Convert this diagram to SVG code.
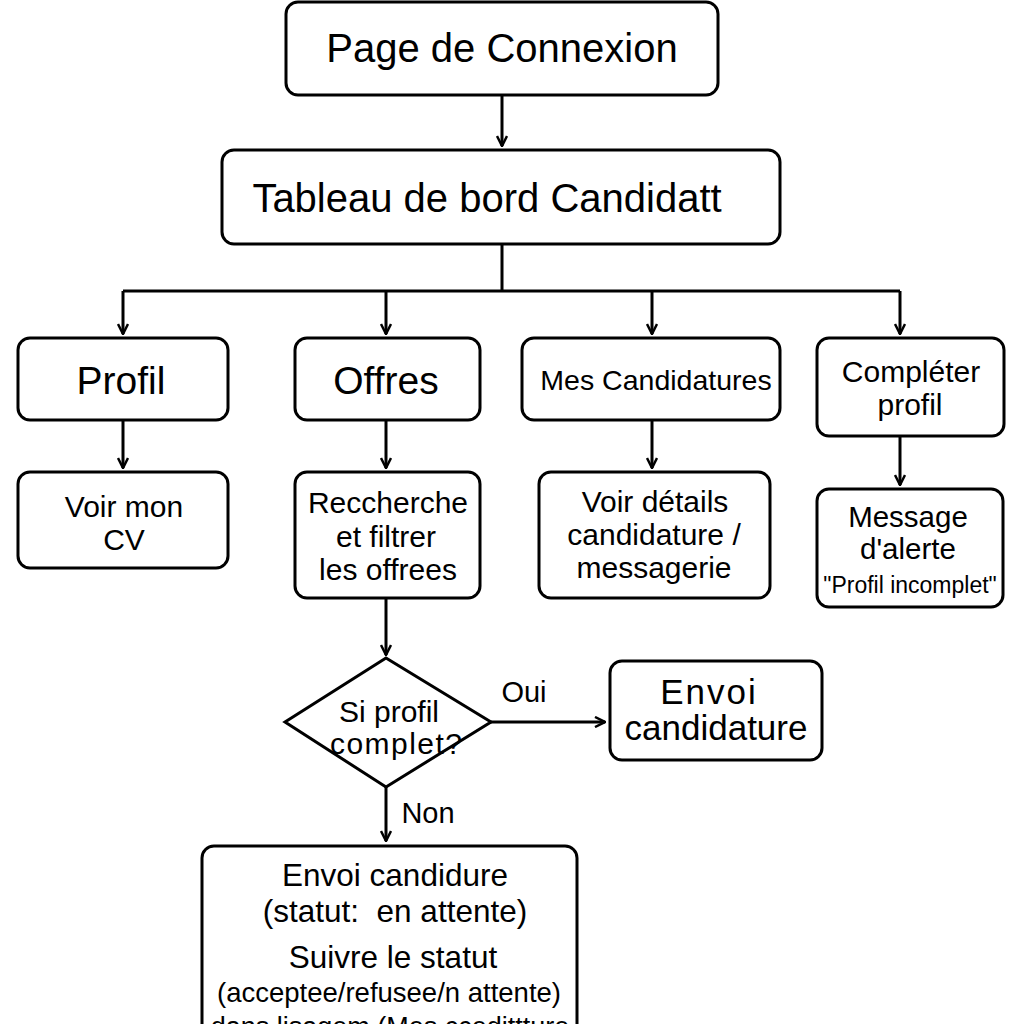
<svg xmlns="http://www.w3.org/2000/svg" width="1024" height="1024" viewBox="0 0 1024 1024">
<defs>
<marker id="ah" viewBox="0 0 12 12" refX="11" refY="6" markerWidth="12" markerHeight="12" markerUnits="userSpaceOnUse" orient="auto">
<path d="M1,1 L11,6 L1,11" fill="none" stroke="#000" stroke-width="2.5"/>
</marker>
<style>
.n{fill:#fff;stroke:#000;stroke-width:3}
.c{fill:none;stroke:#000;stroke-width:3}
text{font-family:"Liberation Sans",Arial,sans-serif;fill:#000;text-anchor:middle}
</style>
</defs>
<rect width="1024" height="1024" fill="#fff"/>
<g id="connectors">
<path class="c" d="M502,95 V146" marker-end="url(#ah)"/>
<path class="c" d="M502,244 V291 M123,291 H900"/>
<path class="c" d="M123,291 V334" marker-end="url(#ah)"/>
<path class="c" d="M386,291 V334" marker-end="url(#ah)"/>
<path class="c" d="M652,291 V334" marker-end="url(#ah)"/>
<path class="c" d="M900,291 V334" marker-end="url(#ah)"/>
<path class="c" d="M123,420 V468" marker-end="url(#ah)"/>
<path class="c" d="M386,420 V468" marker-end="url(#ah)"/>
<path class="c" d="M652,420 V468" marker-end="url(#ah)"/>
<path class="c" d="M900,436 V485" marker-end="url(#ah)"/>
<path class="c" d="M386,598 V655" marker-end="url(#ah)"/>
<path class="c" d="M491,722 H605" marker-end="url(#ah)"/>
<path class="c" d="M386,787 V841" marker-end="url(#ah)"/>
<text x="524" y="702" font-size="29">Oui</text>
<text x="428" y="823" font-size="29">Non</text>
</g>
<g id="login">
<rect class="n" x="286" y="2" width="432" height="93" rx="12"/>
<text x="502" y="62" font-size="40">Page de Connexion</text>
</g>
<g id="dashboard">
<rect class="n" x="222" y="150" width="558" height="94" rx="12"/>
<text x="487" y="212" font-size="40">Tableau de bord Candidatt</text>
</g>
<g id="profil">
<rect class="n" x="18" y="338" width="210" height="82" rx="12"/>
<text x="121" y="394" font-size="39">Profil</text>
</g>
<g id="offres">
<rect class="n" x="295" y="338" width="185" height="82" rx="12"/>
<text x="386" y="394" font-size="39">Offres</text>
</g>
<g id="mescand">
<rect class="n" x="522" y="338" width="258" height="82" rx="12"/>
<text x="656" y="390" font-size="28.5">Mes Candidatures</text>
</g>
<g id="completer">
<rect class="n" x="817" y="338" width="187" height="98" rx="12"/>
<text x="911" y="382" font-size="30">Compléter</text>
<text x="910" y="415" font-size="30">profil</text>
</g>
<g id="cv">
<rect class="n" x="18" y="472" width="210" height="96" rx="12"/>
<text x="124" y="517" font-size="30">Voir mon</text>
<text x="124" y="550" font-size="30">CV</text>
</g>
<g id="recherche">
<rect class="n" x="295" y="472" width="185" height="126" rx="12"/>
<text x="388" y="513" font-size="30">Reccherche</text>
<text x="386" y="547" font-size="30">et filtrer</text>
<text x="388" y="580" font-size="30">les offrees</text>
</g>
<g id="details">
<rect class="n" x="539" y="472" width="231" height="126" rx="12"/>
<text x="655" y="512" font-size="30">Voir détails</text>
<text x="654" y="545" font-size="30">candidature /</text>
<text x="654" y="578" font-size="30">messagerie</text>
</g>
<g id="alerte">
<rect class="n" x="817" y="489" width="186" height="118" rx="12"/>
<text x="908" y="527" font-size="29.5">Message</text>
<text x="908" y="559" font-size="29.5">d'alerte</text>
<text x="910" y="593" font-size="23">"Profil incomplet"</text>
</g>
<g id="decision">
<polygon class="n" points="386,658 491,722 386,787 285,722"/>
<text x="389" y="722" font-size="30">Si profil</text>
<text x="396" y="754" font-size="30" textLength="132">complet?</text>
</g>
<g id="envoi">
<rect class="n" x="610" y="661" width="212" height="99" rx="12"/>
<text x="709" y="704" font-size="35" letter-spacing="2">Envoi</text>
<text x="716" y="740" font-size="35">candidature</text>
</g>
<g id="suivi">
<rect class="n" x="202" y="846" width="375" height="190" rx="12"/>
<text x="395" y="886" font-size="31.5">Envoi candidure</text>
<text x="395" y="922" font-size="31.5" xml:space="preserve" style="white-space:pre">(statut:  en attente)</text>
<text x="393" y="968" font-size="31.5">Suivre le statut</text>
<text x="389" y="1002" font-size="27.5">(acceptee/refusee/n attente)</text>
<text x="390" y="1036" font-size="27">dans lisagem (Mes ccedittture</text>
</g>
</svg>
